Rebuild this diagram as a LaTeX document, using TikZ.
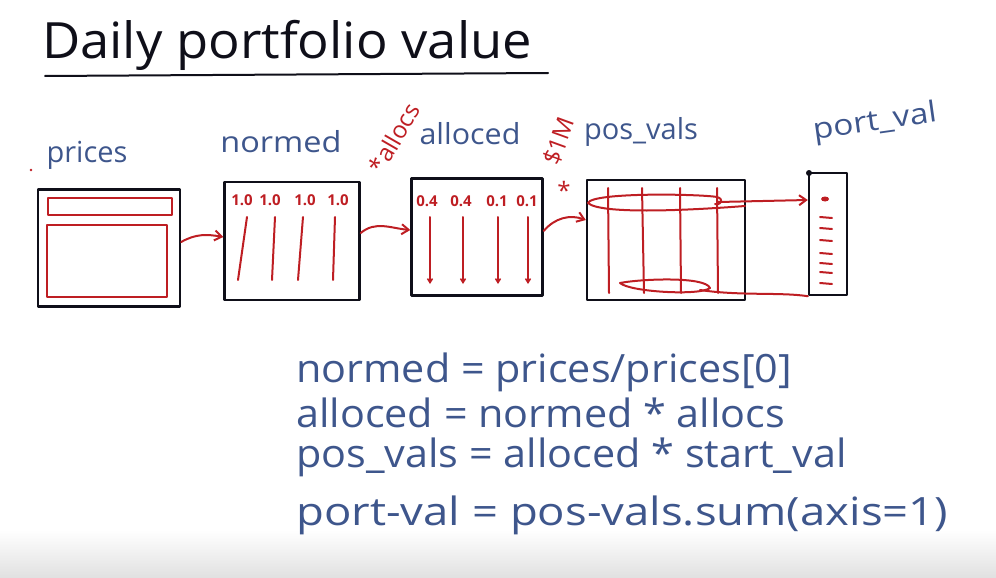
\documentclass[tikz,border=0pt]{standalone}
\usepackage{fontspec}
\setmainfont{Open Sans}
\usetikzlibrary{arrows.meta}
\definecolor{inkblue}{RGB}{62,86,140}
\definecolor{inkred}{RGB}{190,30,35}
\definecolor{inkblack}{RGB}{15,15,25}
\tikzset{
  box/.style={draw=inkblack, line width=2.4pt, line join=round, inner sep=0pt},
  redln/.style={draw=inkred, line width=2pt, line cap=round, line join=round},
  blab/.style={text=inkblue, font=\fontsize{29}{31}\selectfont, inner sep=0pt},
  rlab/.style={text=inkred, font=\bfseries\fontsize{15}{17}\selectfont, inner sep=0pt},
  rbig/.style={text=inkred, font=\fontsize{24}{26}\selectfont, inner sep=0pt},
  eq/.style={text=inkblue, font=\fontsize{39}{42}\selectfont, anchor=west, inner sep=0pt, xscale=1.06},
  arr/.style={redln, -{Straight Barb[length=7pt,width=10pt,line width=2pt]}},
}
\begin{document}
\begin{tikzpicture}[x=1pt,y=-1pt]
\useasboundingbox (0,0) rectangle (996,578);
\shade[top color=white, bottom color=black!12] (0,530) rectangle (996,578);
% title
\node[text=inkblack, font=\fontsize{50}{54}\selectfont, anchor=west, inner sep=0pt, xscale=1.05] (title) at (42,45) {Daily portfolio value};
\draw[inkblack, line width=2pt, line cap=round] (45,76) -- (548,73);
% labels
\node[blab] (lprices) at (87,155) {prices};
\node[inkred, circle, fill, inner sep=1pt] (dot) at (31,170) {};
\node[blab, xscale=1.12] (lnormed) at (281,142) {normed};
\node[blab, xscale=1.05] (lalloced) at (470,134) {alloced};
\node[blab] (lposvals) at (641,132) {pos\_vals};
\node[blab, rotate=8, xscale=1.15] (lportval) at (875,123) {port\_val};
\node[rbig, rotate=60] (lallocs) at (394,138) {*allocs};
\node[rbig, rotate=70] (lmil) at (559,141) {\$1M};
\node[rbig] (lstar) at (564,190) {*};
% boxes
\node[box, minimum width=142pt, minimum height=117pt] (prices) at (109,248) {};
\node[box, minimum width=135pt, minimum height=118pt] (normed) at (292,241) {};
\node[box, minimum width=131pt, minimum height=117pt] (alloced) at (477,237) {};
\node[box, minimum width=158pt, minimum height=120pt] (posvals) at (666,240) {};
\node[box, minimum width=38pt, minimum height=122pt] (portval) at (828,234) {};
\fill[inkblack] (809,173) circle (3pt);
% prices inner
\draw[redln] (48,198) rectangle (172,215);
\draw[redln] (47,225) rectangle (167,297);
% normed inner
\node[rlab] (n1) at (242,200) {1.0};
\node[rlab] (n2) at (270,200) {1.0};
\node[rlab] (n3) at (305,200) {1.0};
\node[rlab] (n4) at (338,200) {1.0};
\foreach \x/\b in {247/238, 275/272, 303/298, 335/333}{
  \draw[redln] (\x,217) -- (\b,280);
}
% alloced inner
\node[rlab] (a1) at (427,201) {0.4};
\node[rlab] (a2) at (461,201) {0.4};
\node[rlab] (a3) at (497,201) {0.1};
\node[rlab] (a4) at (527,201) {0.1};
\foreach \x in {430,463,498,528}{
  \draw[redln, -{Straight Barb[length=4pt,width=5pt,line width=1.5pt]}] (\x,217) -- (\x,284);
}
% pos-vals inner
\draw[redln] (588,203) .. controls (592,192) and (700,194) .. (717,197)
  .. controls (724,199) and (722,205) .. (715,204);
\draw[redln] (588,203) .. controls (600,214) and (680,211) .. (745,206);
\foreach \x/\b in {608/609, 642/644, 680/681, 717/718}{
  \draw[redln] (\x,188) -- (\b,293);
}
\draw[redln] (620,283) .. controls (640,279) and (705,276) .. (710,288)
  .. controls (700,296) and (630,292) .. (620,283);
% port_val inner
\fill[inkred] (825,199) ellipse (4pt and 2.5pt);
\foreach \y in {217,228,240,253,263,272,283}{
  \draw[redln] (820,\y) -- (832,\y+1);
}
% connectors
\draw[arr] (prices.east) ++(0,-6) coordinate (p1) to[out=30,in=170] (normed.west |- 0,237);
\draw[arr] (normed.east) ++(0,-8) coordinate (p2) to[out=40,in=175] (alloced.west |- 0,230);
\draw[arr] (alloced.east) ++(0,-6) coordinate (p3) to[out=50,in=160] (posvals.west |- 0,220);
\draw[arr] (718,202) -- (portval.west |- 0,200);
\draw[redln] (700,290) .. controls (740,296) and (780,292) .. (portval.south west);
% equations
\node[eq] (e1) at (296,372) {normed = prices/prices[0]};
\node[eq] (e2) at (296,413) {alloced = normed * allocs};
\node[eq] (e3) at (296,457) {pos\_vals = alloced * start\_val};
\node[eq, xscale=1.1] (e4) at (296,515) {port-val = pos-vals.sum(axis=1)};
\end{tikzpicture}
\end{document}
